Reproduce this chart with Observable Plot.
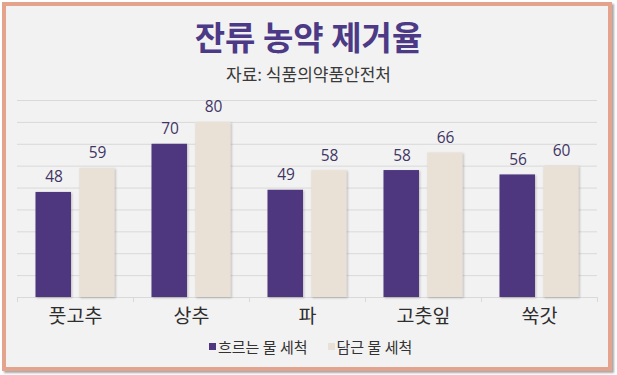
<!DOCTYPE html>
<html>
<head>
<meta charset="utf-8">
<script src="https://cdn.jsdelivr.net/npm/d3@7"></script>
<script src="https://cdn.jsdelivr.net/npm/@observablehq/plot@0.6"></script>
<style>
  html, body { margin: 0; padding: 0; background: #ffffff; }
  body { width: 617px; height: 375px; position: relative; overflow: hidden; font-family: "Noto Sans CJK KR", "Noto Sans", sans-serif; }
  #frame { position: absolute; left: 2px; top: 2px; width: 610px; height: 369px; box-sizing: border-box;
           border: 4px solid #E3A38C; background: #F3F2F2; box-shadow: 2px 2px 2px rgba(0,0,0,0.35); }
  #title { position: absolute; left: 0; top: 20px; width: 617px; text-align: center; font-size: 33px; line-height: 33px;
           font-weight: 700; color: #4C3A86; }
  #subtitle { position: absolute; left: 0; top: 64.5px; width: 617px; text-align: center; font-size: 17px; line-height: 17px;
              color: #3a3a3a; }
  #chart { position: absolute; left: 0; top: 85px; }
  #legend { position: absolute; left: 209px; top: 339px; display: flex; align-items: center; font-size: 15px; line-height: 15px; color: #333; }
  .sw { width: 7px; height: 7px; display: inline-block; margin-right: 2px; }
  .item { display: flex; align-items: center; margin-right: 20px; }
  #chart .bars rect { filter: drop-shadow(1px 1px 1px rgba(0,0,0,0.22)); }
</style>
</head>
<body>
<div id="frame"></div>
<div id="title">잔류 농약 제거율</div>
<div id="subtitle">자료: 식품의약품안전처</div>
<div id="chart"></div>
<div id="legend"></div>
<script>
const categories = ["풋고추", "상추", "파", "고춧잎", "쑥갓"];
const seriesNames = ["흐르는 물 세척", "담근 물 세척"];
const runningWater = [48, 70, 49, 58, 56];
const soakedWater = [59, 80, 58, 66, 60];
const yTicks = [0, 10, 20, 30, 40, 50, 60, 70, 80, 90];
const colors = ["#4E377F", "#EAE1D6"];

const rowsA = categories.map((c, i) => ({category: c, value: runningWater[i]}));
const rowsB = categories.map((c, i) => ({category: c, value: soakedWater[i]}));

const chart = Plot.plot({
  width: 617,
  height: 250,
  marginLeft: 17,
  marginRight: 20,
  marginTop: 15,
  marginBottom: 38,
  style: {background: "transparent", fontFamily: "'Noto Sans CJK KR', sans-serif"},
  x: {domain: categories, padding: 0, label: null, tickSize: 0, tickPadding: 12, fontSize: 19.5},
  y: {domain: [0, 90], axis: null},
  marks: [
    Plot.ruleY(yTicks, {stroke: "#D9D9D9", strokeWidth: 1}),
    Plot.ruleX(categories, {x: d => d, dx: -58, y1: 0, y2: 0, insetBottom: -5, stroke: "#D9D9D9"}),
    Plot.ruleX(categories.slice(-1), {x: d => d, dx: 58, y1: 0, y2: 0, insetBottom: -5, stroke: "#D9D9D9"}),
    Plot.barY(rowsA, {x: "category", y: "value", fill: colors[0], insetLeft: 18.5, insetRight: 62, className: "bars"}),
    Plot.barY(rowsB, {x: "category", y: "value", fill: colors[1], insetLeft: 62.3, insetRight: 18.3, className: "bars"}),
    Plot.text(rowsA, {x: "category", y: "value", text: d => String(d.value), dx: -21.5, dy: -15, fill: "#3F3665", fontSize: 15.5, fontFamily: "'Open Sans', sans-serif"}),
    Plot.text(rowsB, {x: "category", y: "value", text: d => String(d.value), dx: 22, dy: -15, fill: "#3F3665", fontSize: 15.5, fontFamily: "'Open Sans', sans-serif"})
  ]
});
chart.querySelectorAll("g[aria-label='x-axis tick label'] text, g[aria-label='x-axis tick label']").forEach(el => {
  el.setAttribute("fill", "#2e2e2e");
  el.setAttribute("font-size", "19.5");
});
document.getElementById("chart").appendChild(chart);

const legend = document.getElementById("legend");
seriesNames.forEach((name, i) => {
  const item = document.createElement("span");
  item.className = "item";
  const sw = document.createElement("span");
  sw.className = "sw";
  sw.style.background = colors[i];
  item.appendChild(sw);
  item.appendChild(document.createTextNode(name));
  legend.appendChild(item);
});
</script>
</body>
</html>
